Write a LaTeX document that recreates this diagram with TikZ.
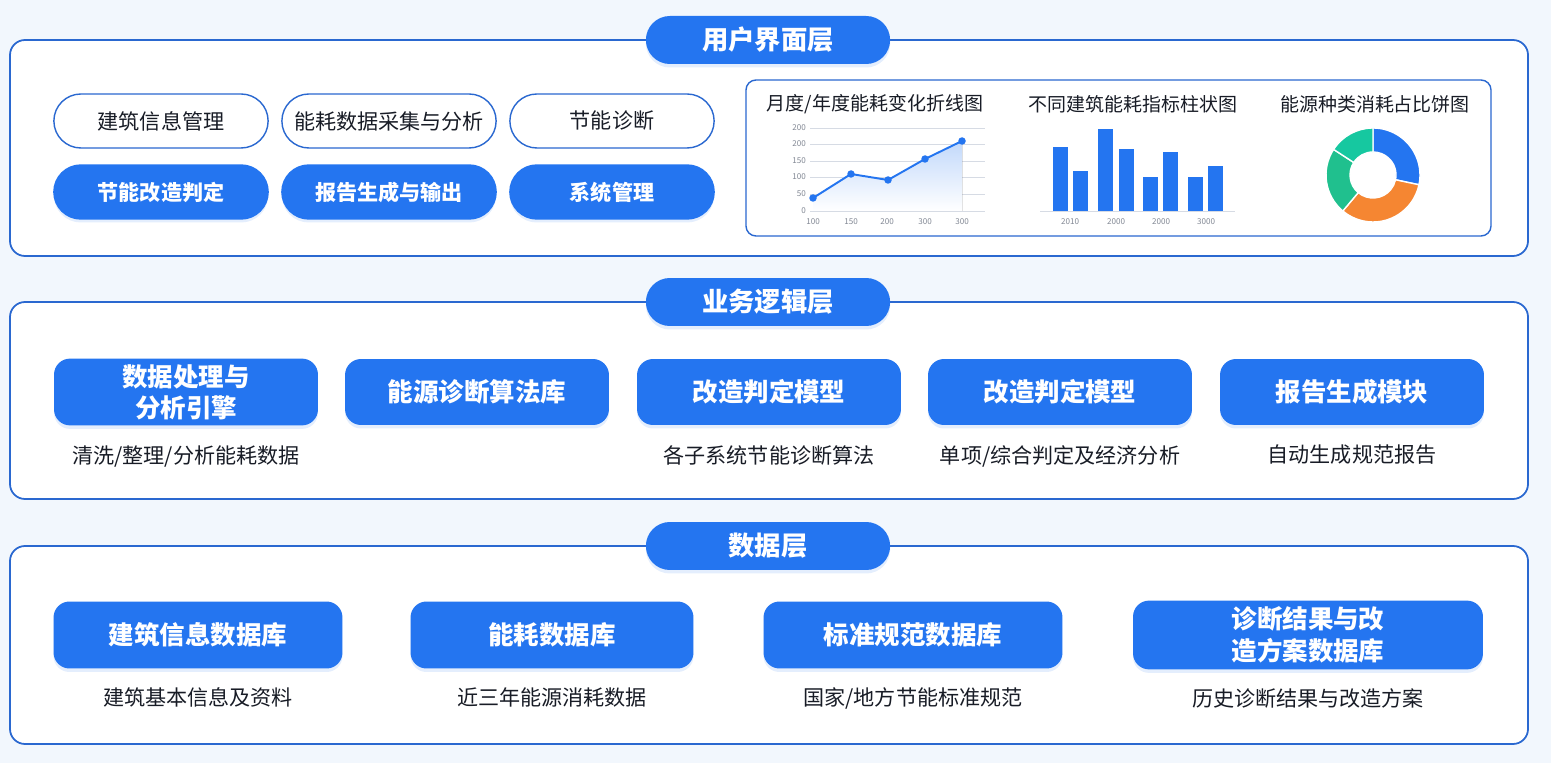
\documentclass[tikz,border=0pt]{standalone}
\usepackage{fontspec}
\setmainfont{Noto Sans CJK SC}
\usepackage{xcolor}
\usepackage{tikz}
\usetikzlibrary{positioning, shapes.misc, shadows}

\definecolor{mainblue}{RGB}{36,117,240}
\definecolor{lineblue}{RGB}{42,104,208}
\definecolor{bgtint}{RGB}{242,247,253}
\definecolor{gridgray}{RGB}{214,219,228}
\definecolor{axisgray}{RGB}{130,136,148}
\definecolor{textdark}{RGB}{24,28,38}
\definecolor{pieorange}{RGB}{245,134,50}
\definecolor{piegreen}{RGB}{32,192,142}
\definecolor{pieteal}{RGB}{22,200,160}

\begin{document}
\begin{tikzpicture}[x=0.02cm, y=-0.02cm,
    layer/.style={draw=lineblue, line width=1pt, fill=white, rounded corners=0.3cm},
    softshadow/.style={drop shadow={shadow xshift=0cm, shadow yshift=-0.07cm, opacity=0.12, fill=mainblue}},
    layertitle/.style={rounded rectangle, fill=mainblue, text=white, softshadow,
      minimum width=5.12cm, minimum height=0.96cm, font=\fontsize{15}{18}\selectfont\bfseries},
    uibox/.style={rounded rectangle, draw=lineblue, line width=0.8pt, fill=white, text=textdark,
      minimum width=4.52cm, minimum height=1.08cm, font=\fontsize{12}{14}\selectfont},
    uifill/.style={uibox, draw=mainblue, fill=mainblue, text=white, softshadow,
      font=\fontsize{12}{14}\selectfont\bfseries},
    module/.style={rectangle, rounded corners=0.32cm, fill=mainblue, text=white, softshadow,
      align=center, minimum width=5.28cm, minimum height=1.32cm,
      font=\fontsize{14.5}{17.5}\selectfont\bfseries},
    desc/.style={text=textdark, inner sep=2pt, font=\fontsize{12}{14}\selectfont},
    charttitle/.style={text=textdark, font=\fontsize{10.8}{13}\selectfont},
    tick/.style={text=axisgray, inner sep=1pt, font=\fontsize{4.6}{5.5}\selectfont}]

  \useasboundingbox (0,0) rectangle (1551,763);
  \fill[bgtint] (0,0) rectangle (1551,763);

  % layer frames
  \draw[layer] (10,40) rectangle (1528,256);
  \draw[layer] (10,302) rectangle (1528,499);
  \draw[layer] (10,546) rectangle (1528,744);

  \node[layertitle] (ui) at (768,40) {用户界面层};
  \node[layertitle] (logic) at (768,302) {业务逻辑层};
  \node[layertitle] (data) at (768,546) {数据层};

  % user interface layer
  \node[uibox] (u1) at (161,121) {建筑信息管理};
  \node[uibox] (u2) at (389,121) {能耗数据采集与分析};
  \node[uibox, minimum width=4.32cm] (u3) at (612,121) {节能诊断};
  \node[uifill] (u4) at (161,192) {节能改造判定};
  \node[uifill] (u5) at (389,192) {报告生成与输出};
  \node[uifill, minimum width=4.32cm] (u6) at (612,192) {系统管理};

  \draw[draw=lineblue, line width=0.8pt, fill=white, rounded corners=0.2cm] (746,80) rectangle (1491,236);
  \node[charttitle] (c1) at (875,104) {月度/年度能耗变化折线图};
  \node[charttitle] (c2) at (1133,104) {不同建筑能耗指标柱状图};
  \node[charttitle] (c3) at (1375,104) {能源种类消耗占比饼图};

  % line chart
  \foreach \y/\t in {128/200, 144/200, 161/150, 177/100, 194/50, 211/0} {
    \draw[gridgray, line width=0.4pt] (810,\y) -- (985,\y);
    \node[tick, anchor=east] (yl\y) at (808,\y) {\t};
  }
  \foreach \x/\t in {813/100, 851/150, 887/200, 925/300, 962/300}
    \node[tick] (xl\x) at (\x,222) {\t};
  \foreach \n/\x/\y in {1/813/198, 2/851/174, 3/888/180, 4/925/159, 5/962/141}
    \coordinate (p\n) at (\x,\y);
  \fill[top color=mainblue!28, bottom color=white] (p1) -- (p2) -- (p3) -- (p4) -- (p5) -- (962,211) -- (813,211) -- cycle;
  \draw[mainblue, line width=1.1pt, line join=round] (p1) -- (p2) -- (p3) -- (p4) -- (p5);
  \foreach \n in {1,...,5}
    \fill[mainblue] (p\n) circle (0.075cm);

  % bar chart
  \draw[gridgray, line width=0.5pt] (1040,211) -- (1235,211);
  \foreach \x/\h in {1053/147, 1073/171, 1098/129, 1119/149, 1143/177, 1163/152, 1188/177, 1208/166}
    \fill[mainblue] (\x,\h) rectangle ({\x+15},211);
  \foreach \x/\t in {1070/2010, 1116/2000, 1161/2000, 1206/3000}
    \node[tick] (bl\x) at (\x,222) {\t};

  % donut chart
  \coordinate (pie) at (1373,175);
  \begin{scope}[shift={(pie)}, x=0.02cm, y=0.02cm]
    \foreach \a/\b/\c in {90/-12/mainblue, -12/-130/pieorange, -130/-213/piegreen, 147/90/pieteal}
      \filldraw[fill=\c, draw=white, line width=0.8pt]
        (\a:47) arc[start angle=\a, end angle=\b, radius=47] -- (\b:23)
        arc[start angle=\b, end angle=\a, radius=23] -- cycle;
  \end{scope}

  % business logic layer
  \node[module] (m1) at (186,392) {数据处理与\\分析引擎};
  \node[module] (m2) at (477,392) {能源诊断算法库};
  \node[module] (m3) at (769,392) {改造判定模型};
  \node[module] (m4) at (1060,392) {改造判定模型};
  \node[module] (m5) at (1352,392) {报告生成模块};
  \node[desc, below=0.32cm of m1] (m1d) {清洗/整理/分析能耗数据};
  \node[desc, below=0.32cm of m3] (m3d) {各子系统节能诊断算法};
  \node[desc, below=0.32cm of m4] (m4d) {单项/综合判定及经济分析};
  \node[desc, below=0.32cm of m5] (m5d) {自动生成规范报告};

  % data layer
  \node[module, minimum width=5.78cm, minimum height=1.34cm] (d1) at (198,635) {建筑信息数据库};
  \node[module, minimum width=5.66cm, minimum height=1.34cm] (d2) at (552,635) {能耗数据库};
  \node[module, minimum width=5.98cm, minimum height=1.34cm] (d3) at (913,635) {标准规范数据库};
  \node[module, minimum width=7.00cm, minimum height=1.34cm, font=\fontsize{14.5}{18.5}\selectfont\bfseries] (d4) at (1308,635) {诊断结果与改\\造方案数据库};
  \node[desc, below=0.3cm of d1] (d1d) {建筑基本信息及资料};
  \node[desc, below=0.3cm of d2] (d2d) {近三年能源消耗数据};
  \node[desc, below=0.3cm of d3] (d3d) {国家/地方节能标准规范};
  \node[desc, below=0.3cm of d4] (d4d) {历史诊断结果与改造方案};
\end{tikzpicture}
\end{document}
